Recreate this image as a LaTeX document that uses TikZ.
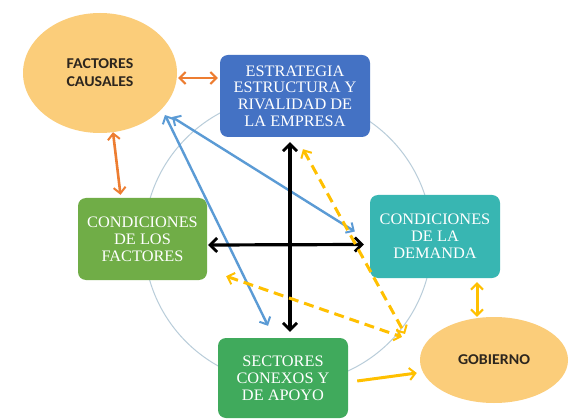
\documentclass[tikz,border=0pt]{standalone}
\usepackage{fontspec}
\setmainfont[FakeStretch=1.02]{Liberation Serif}
\newfontfamily\carl[FakeStretch=1.06]{Carlito}
\usetikzlibrary{arrows.meta,shapes.geometric,calc}
\definecolor{ellfill}{RGB}{251,205,122}
\definecolor{estblue}{RGB}{68,114,196}
\definecolor{cfgreen}{RGB}{112,173,71}
\definecolor{cdteal}{RGB}{56,182,178}
\definecolor{scgreen}{RGB}{64,170,92}
\definecolor{orangearr}{RGB}{237,125,49}
\definecolor{bluearr}{RGB}{91,155,213}
\definecolor{yelarr}{RGB}{255,192,0}
\definecolor{ringcol}{RGB}{185,205,218}
\definecolor{elltext}{RGB}{45,38,30}
\begin{document}
\begin{tikzpicture}[x=1pt,y=-1pt,
  boxnode/.style={rectangle, rounded corners=8pt, inner sep=0pt, align=center,
    text=white, font=\fontsize{16}{16.8}\selectfont},
  ellnode/.style={ellipse, fill=ellfill, inner sep=0pt, align=center,
    text=elltext, font=\carl\bfseries\fontsize{15}{18}\selectfont},
  barb/.tip={Straight Barb[length=6pt,width=12pt,line width=2pt]},
  oarr/.style={draw=orangearr, line width=2.6pt, {barb}-{barb}},
  barr/.style={draw=bluearr, line width=2.4pt, {barb}-{barb}},
  karr/.style={draw=black, line width=3.2pt, {Straight Barb[length=7pt,width=14pt,line width=2.8pt]}-{Straight Barb[length=7pt,width=14pt,line width=2.8pt]}},
  ydash/.style={draw=yelarr, line width=3pt, dash pattern=on 10pt off 6pt, {barb}-{barb}},
  ysolid/.style={draw=yelarr, line width=3pt},
  ring/.style={draw=ringcol, line width=1pt}
]
\useasboundingbox (0,0) rectangle (569,419);
\fill[white] (0,0) rectangle (569,419);
\draw[ring] (288,240) circle[radius=144];

\node[ellnode, minimum width=154pt, minimum height=120pt] (fc) at (100,73) {FACTORES\\CAUSALES};
\node[boxnode, fill=estblue, minimum width=150pt, minimum height=82pt] (est) at (295,96)
  {ESTRATEGIA\\ESTRUCTURA Y\\RIVALIDAD DE\\LA EMPRESA};
\node[boxnode, fill=cfgreen, minimum width=129pt, minimum height=82pt] (cf) at (142.5,239)
  {CONDICIONES\\DE LOS\\FACTORES};
\node[boxnode, fill=cdteal, minimum width=130pt, minimum height=83pt] (cd) at (435,236.5)
  {CONDICIONES\\DE LA\\DEMANDA};
\node[boxnode, fill=scgreen, minimum width=130pt, minimum height=80pt] (sc) at (283,378)
  {SECTORES\\CONEXOS Y\\DE APOYO};
\node[ellnode, minimum width=148pt, minimum height=86pt] (gob) at (494,360) {GOBIERNO};

% orange
\draw[oarr] ([xshift=1pt,yshift=-5pt]fc.east) -- ([xshift=-2pt,yshift=18pt]est.west);
\draw[oarr] ([xshift=13pt,yshift=1pt]fc.south) -- ([xshift=-22pt,yshift=3pt]cf.north);
% blue
\draw[barr] ([xshift=65pt,yshift=-42pt]fc.center) -- ([xshift=-15pt,yshift=12pt]sc.north);
\draw[barr] ([xshift=72pt,yshift=-44pt]fc.center) -- ([xshift=-15pt,yshift=5pt]cd.west);
% black
\draw[karr] ([xshift=-5pt,yshift=-5pt]est.south) -- ([xshift=7pt,yshift=6pt]sc.north);
\draw[karr] ([xshift=1pt,yshift=-6pt]cf.east) -- ([xshift=-6pt,yshift=-8pt]cd.west);
% yellow
\draw[ydash] ([xshift=8pt,yshift=-12pt]est.south) -- ([xshift=-89pt,yshift=26pt]gob.center);
\draw[ydash] ([xshift=19pt,yshift=4pt]cf.south east) -- ([xshift=-92pt,yshift=23pt]gob.center);
\draw[ysolid, -{barb}] ([xshift=9pt,yshift=-3pt]sc.east) -- ([xshift=-3pt,yshift=-13pt]gob.west);
\draw[ysolid, {barb}-{barb}] ([xshift=42pt,yshift=-4pt]cd.south) -- ([xshift=-17pt,yshift=0pt]gob.north);
\end{tikzpicture}
\end{document}
